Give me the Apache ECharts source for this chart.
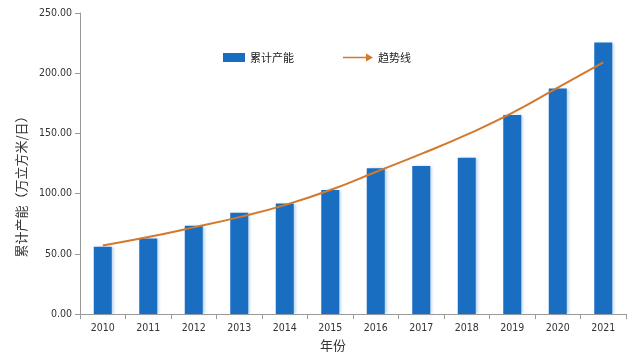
<!DOCTYPE html>
<html>
<head>
<meta charset="utf-8">
<script src="https://cdn.jsdelivr.net/npm/echarts@6/dist/echarts.min.js"></script>
<style>html,body{margin:0;padding:0;background:#fff;}#c{width:640px;height:357px;}</style>
</head>
<body>
<div id="c"></div>
<script>
const years = ['2010','2011','2012','2013','2014','2015','2016','2017','2018','2019','2020','2021'];
const capacity = [56, 62.7, 73.4, 84.2, 91.8, 103, 121, 123, 129.8, 165.3, 187.3, 225.5];
const trend = [57, 64, 72, 80.5, 90.5, 103, 118, 133, 149, 167, 188, 209];
const yTicks = [0, 50, 100, 150, 200, 250];

const font = '"DejaVu Sans Condensed","DejaVu Sans",sans-serif';
const cjk = '"Noto Sans CJK SC",sans-serif';
const chart = echarts.init(document.getElementById('c'), null, {renderer: 'canvas'});
chart.setOption({
  animation: false,
  backgroundColor: '#fff',
  grid: {left: 80, right: 14, top: 13, bottom: 41, containLabel: false},
  legend: [
    {data: [{name: '累计产能', icon: 'rect'}], left: 218, top: 47, itemWidth: 22, itemHeight: 9,
     textStyle: {fontFamily: cjk, fontSize: 11, color: '#222'}},
    {data: [{name: '趋势线', icon: 'path://M0,3.2 L23,3.2 L23,0 L30,4 L23,8 L23,4.8 L0,4.8 Z'}], left: 338, top: 47, itemWidth: 30, itemHeight: 8,
     textStyle: {fontFamily: cjk, fontSize: 11, color: '#222'}}
  ],
  xAxis: {
    type: 'category', data: years,
    name: '年份', nameLocation: 'middle', nameGap: 24,
    nameTextStyle: {fontFamily: cjk, fontSize: 13, color: '#333', padding: [0, 40, 0, 0]},
    axisLine: {lineStyle: {color: '#999'}},
    axisTick: {show: true, length: 5, lineStyle: {color: '#999'}},
    axisLabel: {fontFamily: font, fontSize: 10.5, color: '#333', margin: 9}
  },
  yAxis: {
    type: 'value', min: 0, max: 250, interval: 50,
    name: '累计产能（万立方米/日）', nameLocation: 'middle', nameGap: 48, nameRotate: 90,
    nameTextStyle: {fontFamily: cjk, fontSize: 13, color: '#333', padding: [0, 40, 0, 0]},
    axisLine: {show: true, lineStyle: {color: '#999'}},
    axisTick: {show: true, length: 5, lineStyle: {color: '#999'}},
    splitLine: {show: false},
    axisLabel: {fontFamily: font, fontSize: 10.5, color: '#333', margin: 8,
      formatter: v => yTicks.includes(v) ? v.toFixed(2) : ''}
  },
  series: [
    {name: '累计产能', type: 'bar', data: capacity, barWidth: 18,
     itemStyle: {color: '#1a6ec2', shadowColor: 'rgba(120,170,225,0.6)', shadowBlur: 3, shadowOffsetX: 2}},
    {name: '趋势线', type: 'line', data: trend, smooth: true, symbol: 'none',
     itemStyle: {color: '#d4782c'}, lineStyle: {color: '#d4782c', width: 2}, z: 5}
  ]
});
</script>
</body>
</html>
